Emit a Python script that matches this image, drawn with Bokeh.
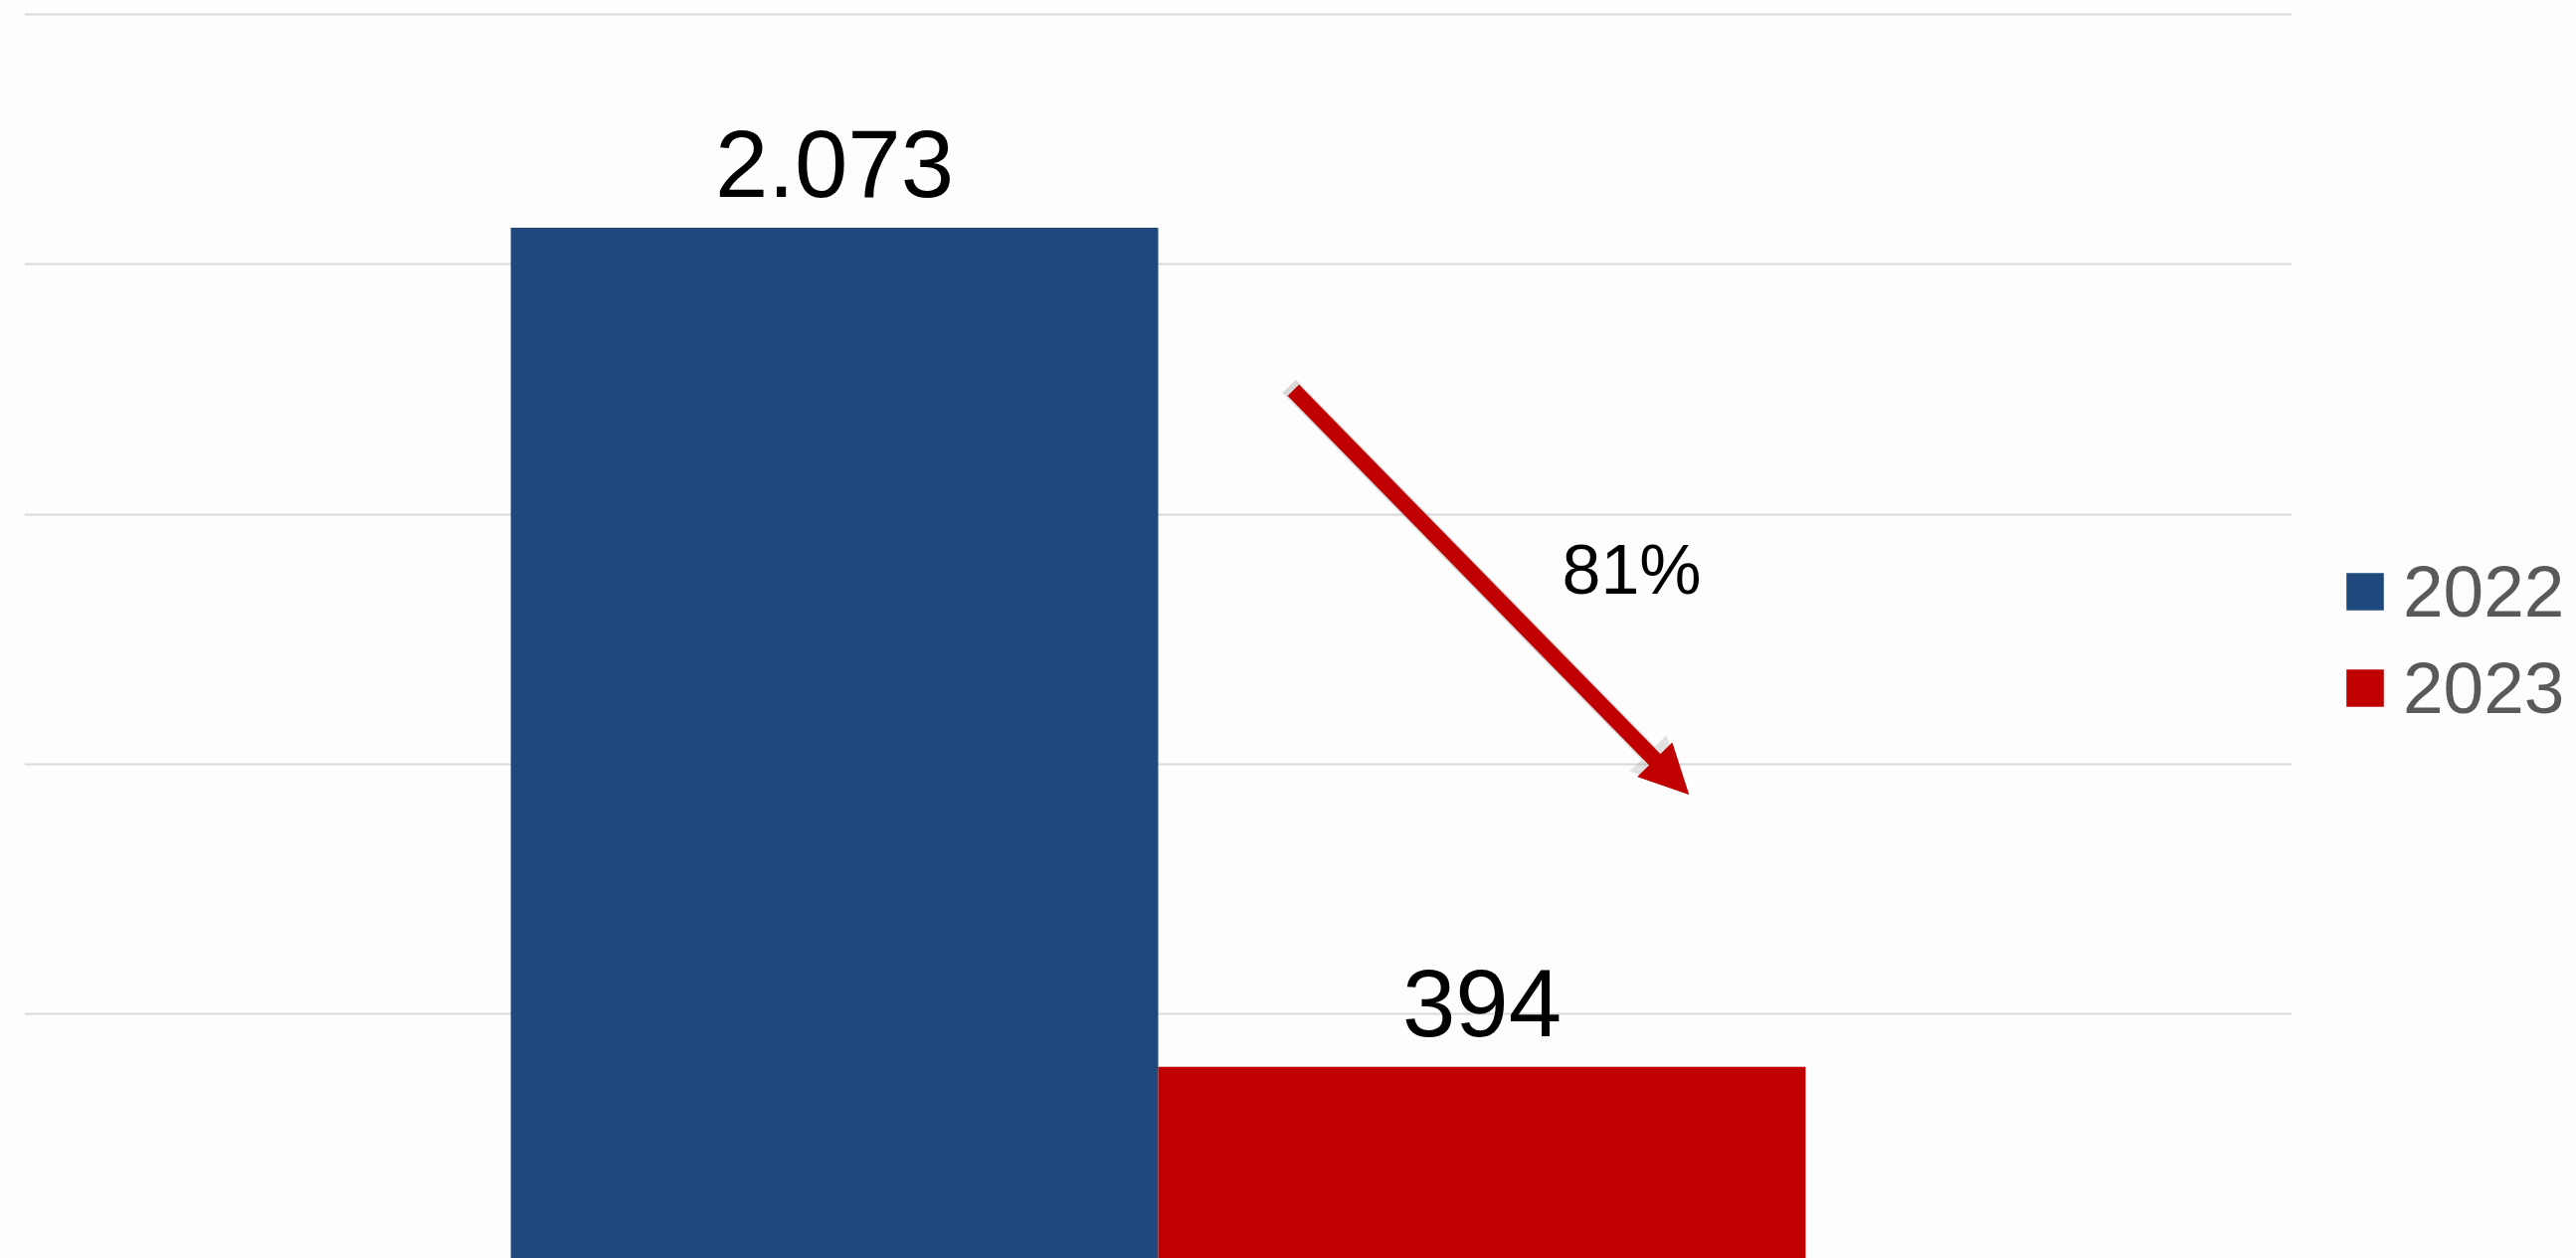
from bokeh.plotting import figure
from bokeh.layouts import row
from bokeh.models import (FactorRange, Range1d, FixedTicker, Legend, LegendItem,
                          Arrow, NormalHead, ColumnDataSource, LabelSet)
from bokeh.transform import dodge
from bokeh.core.properties import value
from bokeh.embed import file_html
from bokeh.resources import INLINE

# ---- data ----
category = ["Gesamt"]
years = ["2022", "2023"]
values = [2073, 394]
labels = ["2.073", "394"]
colors = ["#1F497D", "#C00000"]
y_ticks = [0, 500, 1000, 1500, 2000, 2500]
change_label = "81%"

FONT = "Liberation Sans"
BAR_W = 0.2855
BG = "#FDFDFD"

p = figure(width=2304, height=1265, output_backend="svg", toolbar_location=None,
           x_range=FactorRange(factors=category, range_padding=0),
           y_range=Range1d(10.4, 2527.9),
           min_border_left=24, min_border_right=0,
           min_border_top=0, min_border_bottom=0)
p.background_fill_color = BG
p.border_fill_color = BG
p.outline_line_color = None
p.xaxis.visible = False
p.yaxis.visible = False
p.xgrid.grid_line_color = None
p.ygrid.ticker = FixedTicker(ticks=y_ticks)
p.ygrid.grid_line_color = "#D9D9D9"
p.ygrid.grid_line_width = 2

offsets = [-BAR_W / 2, BAR_W / 2]
for yr, v, lab, c, off in zip(years, values, labels, colors, offsets):
    src = ColumnDataSource(dict(cat=category, top=[v], lab=[lab]))
    p.vbar(x=dodge("cat", off, range=p.x_range), top="top", bottom=0,
           width=BAR_W, source=src, fill_color=c, line_color=None)
    p.add_layout(LabelSet(x=dodge("cat", off, range=p.x_range), y="top", text="lab",
                          source=src, text_font=value(FONT), text_font_size="96px",
                          text_color="#000000", text_align="center",
                          text_baseline="alphabetic", y_offset=31))

# arrow showing the decline
ax0, ay0, ax1, ay1 = 0.5596, 1748, 0.7338, 940
shadow = Arrow(x_start=ax0 - 0.0018, y_start=ay0 + 8, x_end=ax1 - 0.0018, y_end=ay1 + 8,
               line_color="#7F7F7F", line_alpha=0.28, line_width=19,
               end=NormalHead(size=52, fill_color="#7F7F7F", fill_alpha=0.22, line_color=None))
p.add_layout(shadow)
arrow = Arrow(x_start=ax0, y_start=ay0, x_end=ax1, y_end=ay1,
              line_color="#C00000", line_width=16,
              end=NormalHead(size=48, fill_color="#C00000", line_color="#C00000", line_width=1))
p.add_layout(arrow)

p.text(x=[0.7088], y=[1388], text=[change_label], text_font=value(FONT),
       text_font_size="70px", text_color="#000000", text_align="center",
       text_baseline="alphabetic")

# legend panel on the right (its bars have zero width and lie outside its range)
pl = figure(width=286, height=1265, output_backend="svg", toolbar_location=None,
            x_range=FactorRange(factors=category), y_range=Range1d(-2, -1),
            min_border_left=0, min_border_right=0, min_border_top=0, min_border_bottom=0)
pl.background_fill_color = BG
pl.border_fill_color = BG
pl.outline_line_color = None
pl.axis.visible = False
pl.grid.grid_line_color = None
items = []
for yr, v, c in zip(years, values, colors):
    lsrc = ColumnDataSource(dict(cat=category, top=[v]))
    r = pl.vbar(x="cat", top="top", bottom=0, width=0, source=lsrc,
                fill_color=c, line_color=None)
    items.append(LegendItem(label=yr, renderers=[r]))
legend = Legend(items=items, location=(50, 532), orientation="vertical",
                glyph_width=47, glyph_height=47, label_standoff=15,
                label_text_font=FONT, label_text_font_size="73px",
                label_text_color="#595959", spacing=14, padding=0, margin=0,
                border_line_color=None, background_fill_alpha=0)
pl.add_layout(legend, "center")

layout = row(p, pl, spacing=0)
open("out.html", "w").write(file_html(layout, INLINE))
